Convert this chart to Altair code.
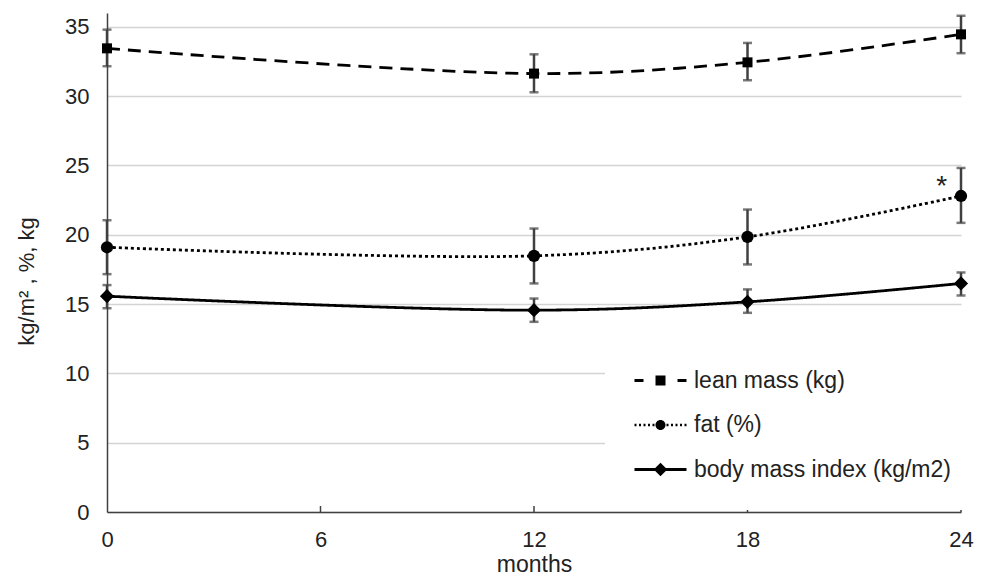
import altair as alt
import pandas as pd

# ---------------- data ----------------
months = [0, 12, 18, 24]
series_names = ["lean mass (kg)", "fat (%)", "body mass index (kg/m2)"]

lean_mean = [33.45, 31.63, 32.44, 34.46]
lean_low = [32.16, 30.28, 31.15, 33.10]
lean_high = [34.80, 33.02, 33.84, 35.80]

fat_mean = [19.10, 18.48, 19.85, 22.80]
fat_low = [17.16, 16.49, 17.86, 20.86]
fat_high = [21.05, 20.45, 21.82, 24.82]

bmi_mean = [15.57, 14.56, 15.16, 16.49]
bmi_low = [14.70, 13.72, 14.37, 15.62]
bmi_high = [16.37, 15.40, 16.06, 17.28]

x_tick_values = [0, 6, 12, 18, 24]
y_tick_values = [0, 5, 10, 15, 20, 25, 30, 35]

star_month = [23.46]
star_value = [22.9]
star_label = ["*"]

# ---------------- tables ----------------
rows = []
for name, m, lo, hi in [
    (series_names[0], lean_mean, lean_low, lean_high),
    (series_names[1], fat_mean, fat_low, fat_high),
    (series_names[2], bmi_mean, bmi_low, bmi_high),
]:
    for i, mo in enumerate(months):
        rows.append({"month": mo, "series": name, "value": m[i], "lo": lo[i], "hi": hi[i]})
df = pd.DataFrame(rows)
ticks_df = pd.DataFrame({"month": x_tick_values[1:]})
star_df = pd.DataFrame({"month": star_month, "value": star_value, "label": star_label})

FONT = "Liberation Sans"
TXT = "#222222"
ERR = "#404040"
W, H = 854, 499

xs = alt.Scale(domain=[0, 24], nice=False)
ys = alt.Scale(domain=[0, 36], nice=False)

x_enc = alt.X("month:Q", scale=xs, axis=alt.Axis(
    values=x_tick_values, title="months", grid=False, ticks=False, labelFlush=False,
    domainColor=ERR, domainWidth=1.5, labelFontSize=22, labelFont=FONT,
    labelColor=TXT, labelPadding=17, titleFontSize=23, titleFont=FONT,
    titleFontWeight="normal", titleColor=TXT, titleBaseline="alphabetic", titleY=59))
y_enc = alt.Y("value:Q", scale=ys, axis=alt.Axis(
    values=y_tick_values, title="kg/m² , %, kg", grid=True, gridColor="#d4d4d4",
    gridWidth=1.3, ticks=False, labelFlush=False, domainColor=ERR, domainWidth=1.5,
    labelFontSize=22, labelFont=FONT, labelColor=TXT, labelPadding=18,
    titleFontSize=22, titleFont=FONT, titleFontWeight="normal", titleColor=TXT,
    titleX=-69, titleY=268))

base = alt.Chart(df)

# inward x-axis ticks
tick_layer = alt.Chart(ticks_df).mark_rule(color=ERR, strokeWidth=1.5).encode(
    x=alt.X("month:Q", scale=xs),
    y=alt.value(H), y2=alt.value(H - 6))

dash_styles = [[13, 8], [3, 3], [1, 0]]
line_layers = []
for i, (name, dash) in enumerate(zip(series_names, dash_styles)):
    enc_x = x_enc if i == 0 else alt.X("month:Q", scale=xs)
    enc_y = y_enc if i == 0 else alt.Y("value:Q", scale=ys)
    line_layers.append(
        base.transform_filter(alt.datum.series == name)
        .mark_line(color="black", strokeWidth=2.8, interpolate="catmull-rom", strokeDash=dash)
        .encode(x=enc_x, y=enc_y))

errs = base.mark_rule(color=ERR, strokeWidth=2.5).encode(
    x=alt.X("month:Q", scale=xs), y=alt.Y("lo:Q", scale=ys), y2="hi:Q")
cap_lo = base.mark_tick(color=ERR, thickness=2.5, size=9, orient="horizontal").encode(
    x=alt.X("month:Q", scale=xs), y=alt.Y("lo:Q", scale=ys))
cap_hi = base.mark_tick(color=ERR, thickness=2.5, size=9, orient="horizontal").encode(
    x=alt.X("month:Q", scale=xs), y=alt.Y("hi:Q", scale=ys))

marker_styles = [("square", 100), ("circle", 150), ("diamond", 200)]
point_layers = []
for name, (shp, sz) in zip(series_names, marker_styles):
    point_layers.append(
        base.transform_filter(alt.datum.series == name)
        .mark_point(filled=True, opacity=1, color="black", shape=shp, size=sz)
        .encode(x=alt.X("month:Q", scale=xs), y=alt.Y("value:Q", scale=ys)))


# legend symbols: line + marker combined as custom paths
def rect(x0, x1, h):
    return f"M{x0},{-h}H{x1}V{h}H{x0}Z"


lean_path = " ".join([rect(-2.6, -1.7, 0.14), rect(-0.5, 0.5, 0.5), rect(1.7, 2.6, 0.14)])
dot_x = [-2.6, -2.15, -1.7, -1.25, -0.8, 0.6, 1.05, 1.5, 1.95, 2.4]
fat_path = " ".join([rect(x, round(x + 0.2, 2), 0.12) for x in dot_x]) + \
    " M-0.5,0A0.5,0.5 0 1,1 0.5,0A0.5,0.5 0 1,1 -0.5,0Z"
bmi_path = rect(-2.6, 2.6, 0.14) + " M0,-0.68L0.68,0L0,0.68L-0.68,0Z"

legend_layer = base.mark_point(filled=True, opacity=0, color="black").encode(
    x=alt.X("month:Q", scale=xs), y=alt.Y("value:Q", scale=ys),
    shape=alt.Shape("series:N", scale=alt.Scale(
        domain=series_names, range=[lean_path, fat_path, bmi_path]),
        legend=alt.Legend(
            title=None, orient="none", legendX=498, legendY=328,
            fillColor="white", padding=28, symbolSize=400, symbolOffset=16,
            labelOffset=22, symbolFillColor="black", symbolStrokeColor="black",
            symbolStrokeWidth=0, symbolOpacity=1, labelFontSize=23,
            labelFont=FONT, labelColor=TXT, rowPadding=20.5, labelLimit=400)))

star = alt.Chart(star_df).mark_text(
    font=FONT, fontSize=28, color=TXT, align="center", baseline="alphabetic").encode(
    x=alt.X("month:Q", scale=xs), y=alt.Y("value:Q", scale=ys), text="label:N")

chart = alt.layer(
    tick_layer, *line_layers, errs, cap_lo, cap_hi, *point_layers, legend_layer, star
).properties(
    width=W, height=H,
    autosize=alt.AutoSizeParams(type="none"),
    padding={"left": 107, "top": 13, "right": 26, "bottom": 67},
    background="white",
).configure_view(stroke=None)

chart.save("out.html", embed_options={"renderer": "svg", "actions": False})
